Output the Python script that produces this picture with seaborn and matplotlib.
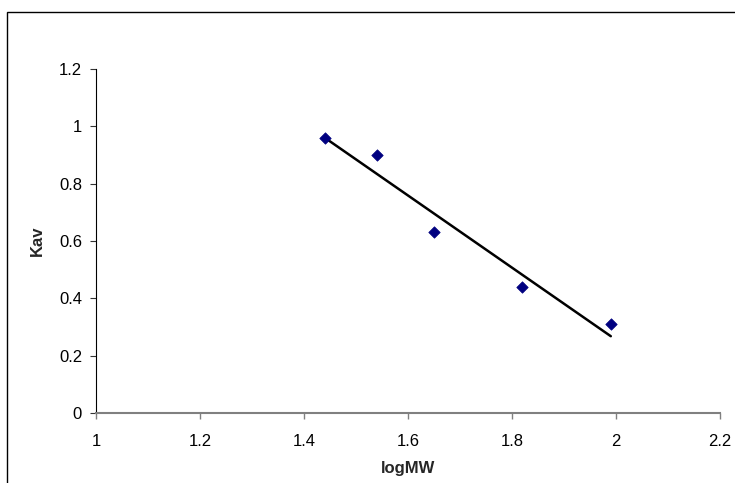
import matplotlib
matplotlib.use("Agg")
import matplotlib.pyplot as plt
import seaborn as sns
import pandas as pd
from matplotlib.patches import Rectangle

log_mw = [1.44, 1.54, 1.65, 1.82, 1.99]
kav = [0.96, 0.90, 0.63, 0.44, 0.31]
x_ticks = [1, 1.2, 1.4, 1.6, 1.8, 2, 2.2]
y_ticks = [0, 0.2, 0.4, 0.6, 0.8, 1, 1.2]

df = pd.DataFrame({"logMW": log_mw, "Kav": kav})

sns.set_style("white")
plt.rcParams["font.family"] = ["Liberation Sans", "DejaVu Sans"]

fig = plt.figure(figsize=(7.35, 4.83), dpi=100)
ax = fig.add_axes([96/735, 1-413/483, (720-96)/735, (413-69)/483])

sns.regplot(data=df, x="logMW", y="Kav", ci=None, ax=ax, marker="D",
            scatter_kws=dict(s=34, color="#000080", edgecolors="#000080",
                             alpha=1, linewidths=0.5, zorder=3),
            line_kws=dict(color="black", lw=1.8, zorder=2))

ax.set_xlim(1, 2.2)
ax.set_ylim(0, 1.2)
ax.set_xticks(x_ticks)
ax.set_xticklabels([f"{v:g}" for v in x_ticks])
ax.set_yticks(y_ticks)
ax.set_yticklabels([f"{v:g}" for v in y_ticks])
ax.set_xlabel("logMW", fontsize=12, fontweight="bold", labelpad=9)
ax.set_ylabel("Kav", fontsize=12, fontweight="bold", labelpad=10)
ax.tick_params(axis="both", labelsize=12, direction="out", length=4, width=0.8,
               bottom=True, left=True)
ax.tick_params(axis="x", colors="#808080", labelcolor="black", pad=11, width=1)
ax.tick_params(axis="y", colors="#333333", labelcolor="black", pad=6)
for s in ["top", "right"]:
    ax.spines[s].set_visible(False)
ax.spines["left"].set_color("black")
ax.spines["left"].set_linewidth(0.8)
ax.spines["bottom"].set_color("#808080")
ax.spines["bottom"].set_linewidth(1.5)

fig.add_artist(Rectangle((7/735, -0.2), 1.0, 1.2 - 12/483, transform=fig.transFigure,
                         fill=False, edgecolor="black", lw=1.0))

fig.savefig("out.png", dpi=100)
